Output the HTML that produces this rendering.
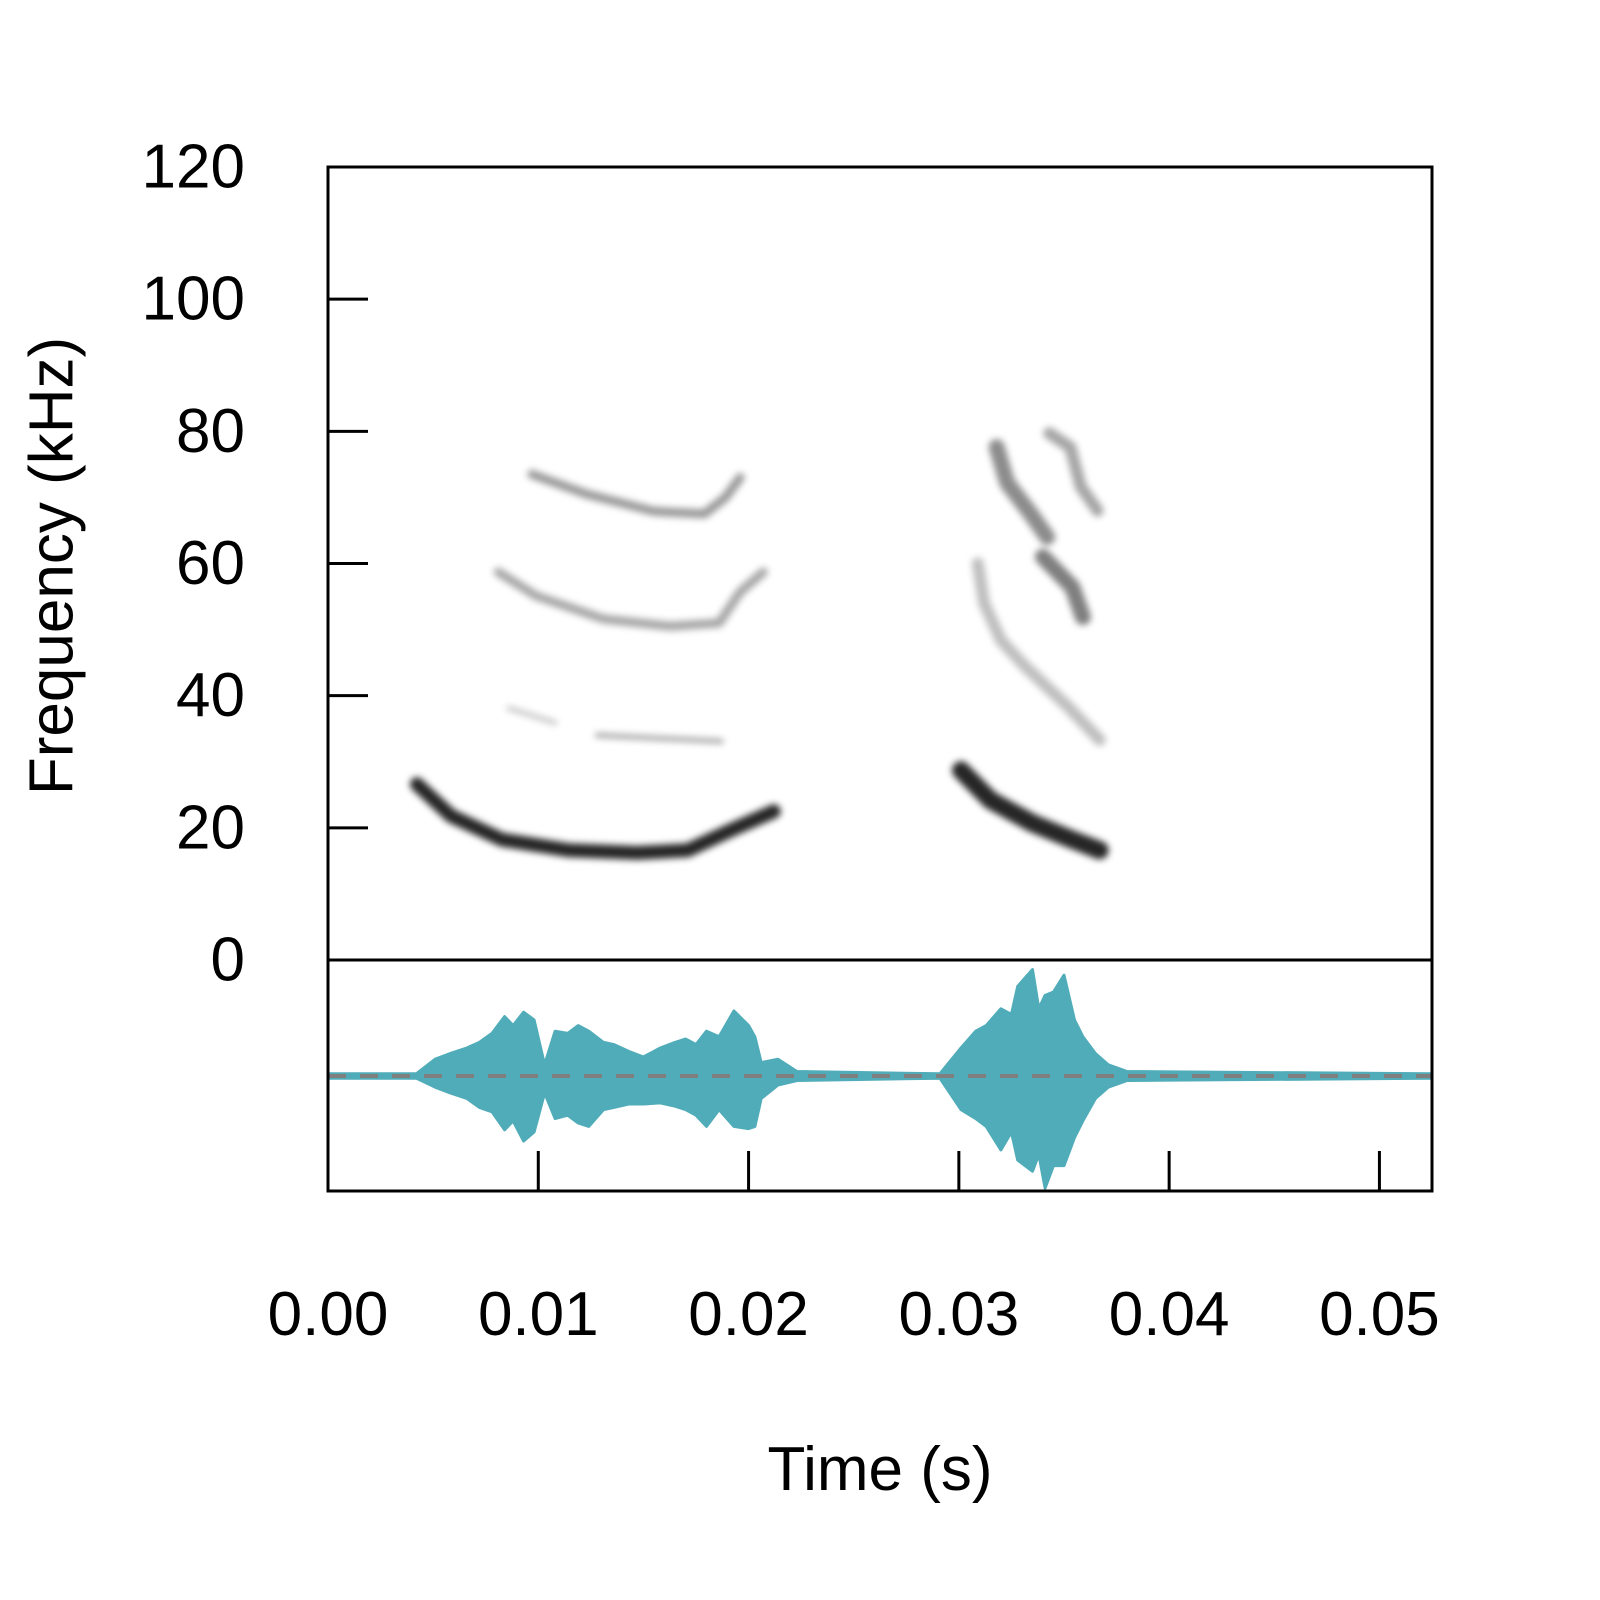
<!DOCTYPE html>
<html><head><meta charset="utf-8"><style>
html,body{margin:0;padding:0;background:#fff}
svg{display:block}
text{font-family:"Liberation Sans",sans-serif;fill:#000}
</style></head><body>
<svg id="chart" width="1600" height="1600" viewBox="0 0 1600 1600" xmlns="http://www.w3.org/2000/svg">
<defs>
<filter id="blur" x="-20%" y="-50%" width="140%" height="200%"><feGaussianBlur stdDeviation="3.5"/></filter>
</defs>
<rect width="1600" height="1600" fill="#fff"/>
<g id="spec" filter="url(#blur)"></g>
<g id="wave"></g>
<g id="axes"></g>
<text x="0" y="0" font-size="62" text-anchor="middle" dominant-baseline="central" transform="translate(52,566) rotate(-90)">Frequency (kHz)</text>
<text x="880" y="1490" font-size="62" text-anchor="middle">Time (s)</text>
</svg>
<script>
// ---- data ----
const xTicks = [0, 0.01, 0.02, 0.03, 0.04, 0.05];
const xTickLabels = ["0.00", "0.01", "0.02", "0.03", "0.04", "0.05"];
const yTicks = [0, 20, 40, 60, 80, 100, 120];
const yTickLabels = ["0", "20", "40", "60", "80", "100", "120"];

// spectrogram tracks (time s, frequency kHz)
const trackATimes = [0.00423, 0.00585, 0.00828, 0.01147, 0.0147, 0.0171, 0.0192, 0.0212];
const trackAFreqs = [26.6, 21.8, 18.2, 16.6, 16.2, 16.6, 19.7, 22.5];
const trackBTimes = [0.0086, 0.0108];
const trackBFreqs = [38.1, 35.9];
const trackCTimes = [0.0128, 0.0187];
const trackCFreqs = [34.0, 33.1];
const trackDTimes = [0.0081, 0.0099, 0.0131, 0.0163, 0.0186, 0.0196, 0.0207];
const trackDFreqs = [58.7, 55.1, 51.6, 50.5, 51.0, 55.7, 58.7];
const trackETimes = [0.0097, 0.0123, 0.0155, 0.0179, 0.0189, 0.0196];
const trackEFreqs = [73.5, 70.5, 67.9, 67.5, 70.0, 73.0];
const trackFTimes = [0.0301, 0.0315, 0.0335, 0.0354, 0.0367];
const trackFFreqs = [28.7, 24.2, 20.7, 18.2, 16.6];
const trackGTimes = [0.0309, 0.0312, 0.032, 0.0331, 0.0352, 0.0367];
const trackGFreqs = [60, 54, 48.4, 44.6, 38.3, 33.3];
const trackHTimes = [0.0318, 0.0323, 0.0334, 0.0342];
const trackHFreqs = [77.6, 72.2, 67.6, 64];
const trackITimes = [0.034, 0.0354, 0.0359];
const trackIFreqs = [61, 56.4, 51.9];
const trackJTimes = [0.0343, 0.0353, 0.0358, 0.0366];
const trackJFreqs = [79.7, 77.6, 71.6, 68];
const trackIntensity = [0.85, 0.22, 0.35, 0.35, 0.4, 0.85, 0.25, 0.45, 0.5, 0.35];

// waveform envelope
const waveTimes = [0, 0.0042, 0.0051, 0.0058, 0.0066, 0.0072, 0.0078, 0.0084, 0.0088, 0.0093, 0.0098, 0.0103, 0.0108, 0.0114, 0.0119, 0.0124, 0.0131, 0.0136, 0.0143, 0.015, 0.0158, 0.0165, 0.017, 0.0175, 0.018, 0.0186, 0.0193, 0.02, 0.0203, 0.0206, 0.0214, 0.0223, 0.0291, 0.0301, 0.0308, 0.0313, 0.032, 0.0325, 0.0328, 0.0335, 0.0338, 0.0341, 0.0345, 0.035, 0.0355, 0.0359, 0.0365, 0.0371, 0.038, 0.0525];
const waveUpper = [0.02, 0.02, 0.15, 0.2, 0.25, 0.3, 0.38, 0.53, 0.45, 0.57, 0.5, 0.1, 0.4, 0.38, 0.45, 0.4, 0.3, 0.28, 0.22, 0.17, 0.25, 0.3, 0.33, 0.28, 0.4, 0.35, 0.58, 0.45, 0.35, 0.12, 0.15, 0.04, 0.02, 0.25, 0.4, 0.45, 0.6, 0.55, 0.8, 0.95, 0.6, 0.72, 0.75, 0.9, 0.5, 0.35, 0.2, 0.1, 0.04, 0.02];
const waveLower = [0.02, 0.02, 0.1, 0.15, 0.2, 0.28, 0.32, 0.48, 0.4, 0.58, 0.5, 0.15, 0.38, 0.35, 0.42, 0.45, 0.3, 0.28, 0.25, 0.25, 0.24, 0.27, 0.3, 0.35, 0.45, 0.3, 0.45, 0.47, 0.45, 0.2, 0.08, 0.04, 0.02, 0.3, 0.38, 0.45, 0.66, 0.5, 0.75, 0.85, 0.7, 1.0, 0.8, 0.8, 0.55, 0.4, 0.2, 0.1, 0.04, 0.02];

// ---- layout ----
const L = 328, R = 1432, T = 167, SB = 960, B = 1191, WC = 1076, WA = 112;
const xScale = t => L + t / 0.0525 * (R - L);
const yScale = f => SB - f / 120 * (SB - T);
const wScale = a => a * WA;
const NS = "http://www.w3.org/2000/svg";
function mk(tag, attrs, parent) {
  const e = document.createElementNS(NS, tag);
  for (const k in attrs) e.setAttribute(k, attrs[k]);
  parent.appendChild(e);
  return e;
}

// spectrogram
const spec = document.getElementById('spec');
const tracks = [[trackATimes, trackAFreqs], [trackBTimes, trackBFreqs], [trackCTimes, trackCFreqs], [trackDTimes, trackDFreqs], [trackETimes, trackEFreqs], [trackFTimes, trackFFreqs], [trackGTimes, trackGFreqs], [trackHTimes, trackHFreqs], [trackITimes, trackIFreqs], [trackJTimes, trackJFreqs]];
const widths = [14, 5, 5, 9, 9, 18, 12, 16, 16, 12];
tracks.forEach((tr, i) => {
  const d = tr[0].map((t, j) => (j ? 'L' : 'M') + xScale(t).toFixed(1) + ',' + yScale(tr[1][j]).toFixed(1)).join(' ');
  const p = mk('path', {d: d, fill: 'none', stroke: '#000', 'stroke-width': widths[i], 'stroke-linecap': 'round', 'stroke-linejoin': 'round', opacity: trackIntensity[i]}, spec);
  
  
});

// waveform
const wave = document.getElementById('wave');
let wd = waveTimes.map((t, j) => (j ? 'L' : 'M') + xScale(t).toFixed(1) + ',' + (WC - wScale(waveUpper[j])).toFixed(1)).join(' ');
for (let j = waveTimes.length - 1; j >= 0; j--) wd += ' L' + xScale(waveTimes[j]).toFixed(1) + ',' + (WC + wScale(waveLower[j])).toFixed(1);
wd += ' Z';
const wp = mk('path', {d: wd, fill: '#4FACB8', stroke: '#4FACB8', 'stroke-width': 3, 'stroke-linejoin': 'round'}, wave);


const zl = mk('line', {x1: L, x2: R, y1: WC, y2: WC, stroke: '#7f7f7f', 'stroke-width': 4, 'stroke-dasharray': '18 14'}, wave);



// axes
const axes = document.getElementById('axes');
const fr = mk('rect', {x: L, y: T, width: R - L, height: B - T, fill: 'none', stroke: '#000', 'stroke-width': 3}, axes);


const dv = mk('line', {x1: L, x2: R, y1: SB, y2: SB, stroke: '#000', 'stroke-width': 3}, axes);


yTicks.forEach((v, i) => {
  const y = yScale(v);
  const tk = mk('line', {x1: L, x2: L + 40, y1: y, y2: y, stroke: '#000', 'stroke-width': 3}, axes);
  
  
  const lb = mk('text', {x: 245, y: y, 'font-size': 62, 'text-anchor': 'end', 'dominant-baseline': 'central'}, axes);
  lb.textContent = yTickLabels[i];
  
  
});
xTicks.forEach((v, i) => {
  const x = xScale(v);
  const tk = mk('line', {x1: x, x2: x, y1: B, y2: B - 40, stroke: '#000', 'stroke-width': 3}, axes);
  
  
  const lb = mk('text', {x: x, y: 1335, 'font-size': 62, 'text-anchor': 'middle'}, axes);
  lb.textContent = xTickLabels[i];
  
  
});
</script>
</body></html>
